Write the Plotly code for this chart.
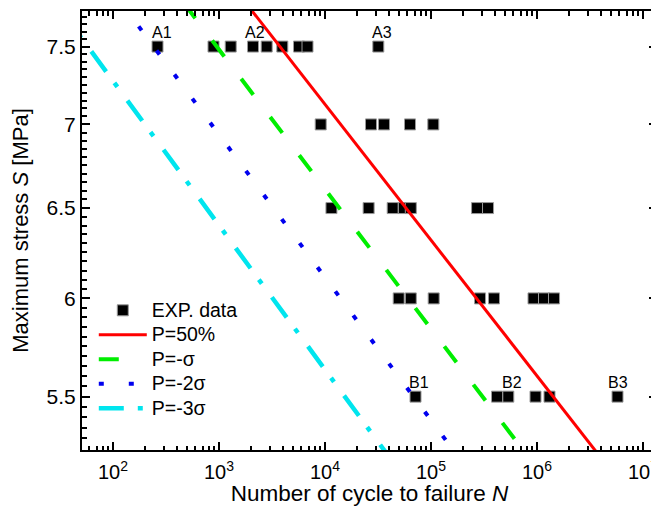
import math
import plotly.graph_objects as go

# Experimental data (cycles to failure N, max stress S in MPa)
exp_N = [263, 887, 1290, 2094, 2818, 3956, 5684, 6837, 31830,
         9108, 27160, 36030, 63380, 105100,
         11500, 25800, 43500, 55500, 64500, 272000, 345000,
         49580, 64480, 106000, 290000, 392900, 926800, 1164000, 1447000,
         71430, 419400, 536000, 967900, 1312000, 5746000]
exp_S = [7.5] * 9 + [7.0] * 5 + [6.5] * 7 + [6.0] * 8 + [5.5] * 6

# P-S-N lines (stress at ends, cycles at ends)
line_S = [7.8, 5.2]
p50_N = [1771, 4160000]
m1s_N = [459, 869000]
m2s_N = [118.4, 189800]
m3s_N = [28.5, 42220]

# Point labels
lab_text = ["A1", "A2", "A3", "B1", "B2", "B3"]
lab_N = [290, 2186, 34260, 76700, 577000, 5810000]
lab_S = [7.5, 7.5, 7.5, 5.5, 5.5, 5.5]

x_ticks = [1e2, 1e3, 1e4, 1e5, 1e6, 1e7]
x_ticktext = ["10<sup>2</sup>", "10<sup>3</sup>", "10<sup>4</sup>",
              "10<sup>5</sup>", "10<sup>6</sup>", "10<sup>7</sup>"]
y_ticks = [5.5, 6.0, 6.5, 7.0, 7.5]
y_ticktext = ["5.5", "6", "6.5", "7", "7.5"]

FONT = "Arial, Liberation Sans, sans-serif"


def big(t):
    return '<span style="font-size:19.5px">' + t + '</span>'


fig = go.Figure()
fig.add_trace(go.Scatter(x=exp_N, y=exp_S, mode="markers", name=big("EXP. data"),
                         marker=dict(symbol="square", size=11, color="black",
                                     line=dict(color="#999999", width=1))))
fig.add_trace(go.Scatter(x=p50_N, y=line_S, mode="lines", name=big("P=50%"),
                         line=dict(color="#ff0000", width=3)))
fig.add_trace(go.Scatter(x=m1s_N, y=line_S, mode="lines", name=big("P=-σ"),
                         line=dict(color="#00ee00", width=4, dash="20px,28px")))
fig.add_trace(go.Scatter(x=m2s_N, y=line_S, mode="lines", name=big("P=-2σ"),
                         line=dict(color="#0000ee", width=4, dash="5px,25px")))
fig.add_trace(go.Scatter(x=m3s_N, y=line_S, mode="lines", name=big("P=-3σ"),
                         line=dict(color="#00e5ee", width=4.5, dash="25px,14px,5px,17px")))

for t, n, s in zip(lab_text, lab_N, lab_S):
    fig.add_annotation(x=math.log10(n), y=math.log10(s), text=t, showarrow=False,
                       xanchor="center", yanchor="middle", yshift=14,
                       font=dict(family=FONT, size=16, color="black"))

x_minor = [k * 10 ** d for d in range(1, 8) for k in range(2, 10)]
y_minor = [round(5.25 + 0.05 * i, 2) for i in range(51)]
y_minor = [v for v in y_minor if v not in y_ticks]

fig.update_xaxes(type="log", range=[1.7075, 7.132], automargin=False,
                 tickmode="array", tickvals=x_ticks, ticktext=x_ticktext,
                 ticks="inside", ticklen=8, tickwidth=1.5, tickcolor="black",
                 ticklabelstandoff=3,
                 minor=dict(tickmode="array", tickvals=x_minor, ticks="inside",
                            ticklen=4.5, tickwidth=1.5, tickcolor="black"),
                 showline=True, linecolor="black", linewidth=2, mirror="allticks",
                 showgrid=False, zeroline=False,
                 tickfont=dict(family=FONT, size=20, color="black"),
                 title=dict(text="Number of cycle to failure <i>N</i>",
                            font=dict(family=FONT, size=22.5, color="black"),
                            standoff=10))
fig.update_yaxes(type="log", range=[math.log10(5.246), math.log10(7.74)],
                 automargin=False,
                 tickmode="array", tickvals=y_ticks, ticktext=y_ticktext,
                 ticks="inside", ticklen=8, tickwidth=1.5, tickcolor="black",
                 minor=dict(tickmode="array", tickvals=y_minor, ticks="inside",
                            ticklen=4.5, tickwidth=1.5, tickcolor="black"),
                 showline=True, linecolor="black", linewidth=2, mirror="allticks",
                 showgrid=False, zeroline=False,
                 tickfont=dict(family=FONT, size=21, color="black"),
                 title=dict(text="Maximum stress <i>S</i> [MPa]",
                            font=dict(family=FONT, size=22, color="black"),
                            standoff=16))

# the page body adds an 8px offset, so the figure is sized to fit the window
fig.update_layout(width=651, height=498,
                  margin=dict(l=74, r=2, t=3, b=56),
                  plot_bgcolor="white", paper_bgcolor="white",
                  legend=dict(x=0.0205, y=0.3574, xanchor="left", yanchor="top",
                              bgcolor="rgba(0,0,0,0)", borderwidth=0,
                              font=dict(family=FONT, size=16.5, color="black"),
                              tracegroupgap=0, itemwidth=48),
                  showlegend=True)

fig.write_html("out.html")
